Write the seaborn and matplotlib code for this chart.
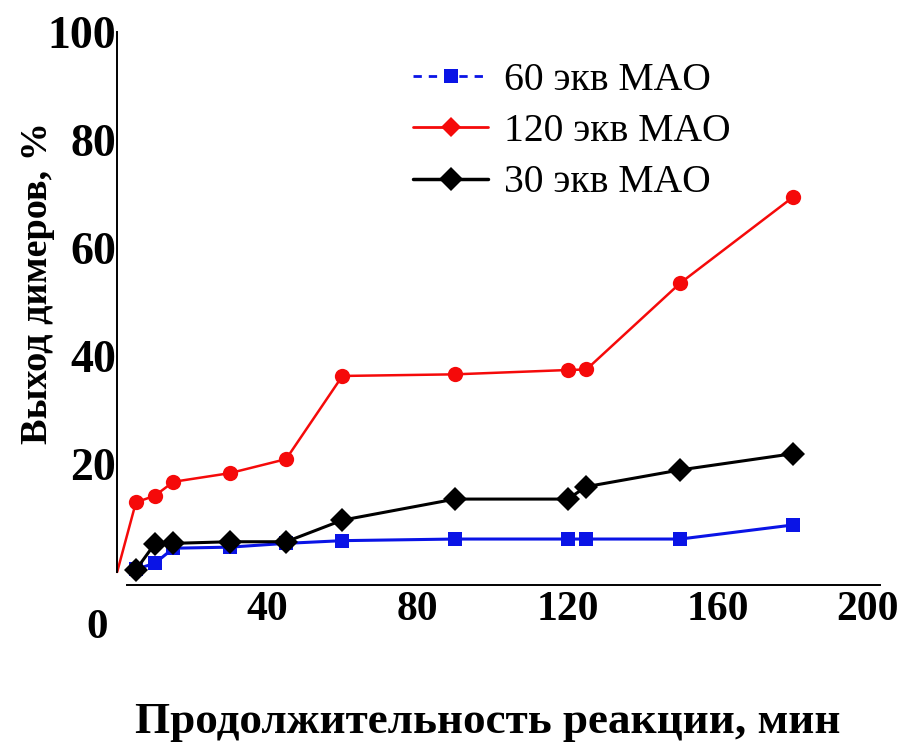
import matplotlib
matplotlib.use("Agg")
import matplotlib.pyplot as plt
import seaborn as sns
from matplotlib.lines import Line2D

# Data
times = [5, 10, 15, 30, 45, 60, 90, 120, 125, 150, 180]
times_120 = [0, 5, 10, 15, 30, 45, 60, 90, 120, 125, 150, 180]
yield_60 = [0.5, 1.6, 4.4, 4.6, 5.3, 5.8, 6.1, 6.1, 6.1, 6.1, 8.7]
yield_120 = [0, 12.9, 14.1, 16.7, 18.3, 20.9, 36.3, 36.6, 37.4, 37.5, 53.5, 69.4]
yield_30 = [0.4, 5.2, 5.3, 5.6, 5.6, 9.6, 13.5, 13.5, 15.8, 18.9, 21.9]

labels = ["60 экв MAO", "120 экв MAO", "30 экв MAO"]
x_ticks = [40, 80, 120, 160, 200]
y_ticks = [20, 40, 60, 80, 100]

blue = "#0a14e6"
red = "#f50a0a"
black = "#000000"

sns.set_style("white")
plt.rcParams["font.family"] = ["Liberation Serif", "DejaVu Serif"]
plt.rcParams["text.color"] = "black"
plt.rcParams["xtick.color"] = "black"
plt.rcParams["ytick.color"] = "black"

fig = plt.figure(figsize=(9.04, 7.47), dpi=100)
ax = fig.add_axes([0.1296, 0.2343, 0.8438, 0.7229])

# Series
sns.lineplot(x=times, y=yield_60, color=blue, marker="s", markersize=10,
             markeredgecolor=blue, markeredgewidth=0, linewidth=2.2,
             ax=ax, clip_on=False)
sns.lineplot(x=times, y=yield_30, color=black, marker="D", markersize=12,
             markeredgecolor=black, markeredgewidth=0, linewidth=2.2,
             ax=ax, clip_on=False)
sns.lineplot(x=times_120, y=yield_120, color=red, marker="o", markersize=11,
             markeredgecolor=red, markeredgewidth=0, linewidth=1.8,
             markevery=list(range(1, len(times_120))), ax=ax, clip_on=False)

ax.set_xlim(0, 203.2)
ax.set_ylim(0, 100)

# Axes lines
sns.despine(ax=ax)
ax.spines["bottom"].set_position(("outward", 9.5))
ax.spines["bottom"].set_bounds(2.6, 203.2)
ax.spines["left"].set_bounds(0, 100)
for s in ["left", "bottom"]:
    ax.spines[s].set_color("black")
    ax.spines[s].set_linewidth(1.4)

ax.set_xticks(x_ticks)
ax.set_xticklabels([str(v) for v in x_ticks], fontsize=30, fontweight="bold")
ax.set_yticks(y_ticks)
ax.set_yticklabels([str(v) for v in y_ticks], fontsize=33, fontweight="bold")
ax.tick_params(axis="both", length=0)
ax.tick_params(axis="x", pad=4)
ax.tick_params(axis="y", pad=1)
ax.set_xlabel("")
ax.set_ylabel("")

fig.text(97 / 904, 1 - 628 / 747, "0", fontsize=31, fontweight="bold",
         ha="center", va="center")
fig.text(488 / 904, 1 - 722 / 747, "Продолжительность реакции, мин",
         fontsize=32.5, fontweight="bold", ha="center", va="center")
fig.text(38 / 904, 1 - 283 / 747, "Выход димеров, %", fontsize=27.5,
         fontweight="bold", ha="center", va="center", rotation=90)

# Legend
handles = [
    Line2D([], [], color=blue, marker="s", markersize=10, linestyle="--",
           dashes=(3, 2.5), linewidth=2, markeredgewidth=0),
    Line2D([], [], color=red, marker="D", markersize=10, linewidth=2,
           markeredgewidth=0),
    Line2D([], [], color=black, marker="D", markersize=12, linewidth=2.5,
           markeredgewidth=0),
]
ax.legend(handles, labels, loc="upper left",
          bbox_to_anchor=(413 / 904, 1 - 62 / 747),
          bbox_transform=fig.transFigure, frameon=False, fontsize=28.5,
          handlelength=1.9, handletextpad=0.4, labelspacing=0.36,
          borderpad=0, borderaxespad=0)

fig.savefig("out.png", dpi=100)
